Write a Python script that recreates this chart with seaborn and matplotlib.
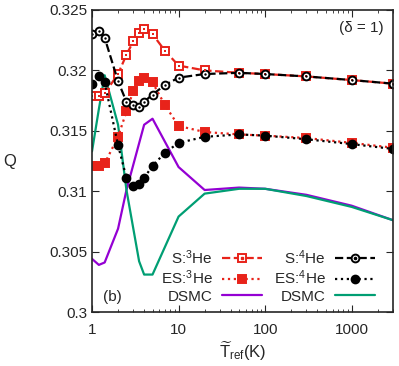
import numpy as np
import pandas as pd
import matplotlib
matplotlib.use("Agg")
import matplotlib.pyplot as plt
from matplotlib.ticker import FuncFormatter, LogLocator, NullFormatter
import seaborn as sns

# data
T = [1, 1.2, 1.4, 2, 2.5, 3, 3.5, 4, 5, 7, 10, 20, 50, 100, 300, 1000, 3000]
S_He3 = [0.3179, 0.3179, 0.3181, 0.3197, 0.3213, 0.3224, 0.3231, 0.3234, 0.3230, 0.3216,
         0.3204, 0.3200, 0.3198, 0.3197, 0.3195, 0.3192, 0.3189]
ES_He3 = [0.3121, 0.3121, 0.3123, 0.3145, 0.3166, 0.3183, 0.3191, 0.3194, 0.3190, 0.3171,
          0.3154, 0.3149, 0.3147, 0.3146, 0.3144, 0.3140, 0.3136]
S_He4 = [0.3230, 0.3233, 0.3227, 0.3191, 0.3174, 0.3171, 0.3170, 0.3174, 0.3180, 0.3188,
         0.3194, 0.3197, 0.3198, 0.3197, 0.3195, 0.3192, 0.3189]
ES_He4 = [0.3189, 0.3195, 0.3190, 0.3138, 0.3111, 0.3104, 0.3106, 0.3111, 0.3121, 0.3132,
          0.3140, 0.3145, 0.3147, 0.3146, 0.3143, 0.3139, 0.3135]

T_dsmc3 = [1, 1.2, 1.4, 2, 2.5, 4, 5, 10, 20, 50, 100, 300, 1000, 3000]
DSMC_He3 = [0.3044, 0.3039, 0.3041, 0.3069, 0.3101, 0.3155, 0.3160, 0.3120, 0.3101,
            0.3103, 0.3102, 0.3097, 0.3088, 0.3076]
T_dsmc4 = [1, 1.2, 1.4, 2, 2.5, 3.5, 4, 5, 10, 20, 50, 100, 300, 1000, 3000]
DSMC_He4 = [0.3133, 0.3168, 0.3196, 0.3155, 0.3101, 0.3042, 0.3031, 0.3031, 0.3079,
            0.3098, 0.3102, 0.3102, 0.3096, 0.3087, 0.3076]

red = "#e8231a"
purple = "#9400d3"
green = "#009e73"

sns.set_style("ticks")
plt.rcParams["font.family"] = ["Liberation Sans", "DejaVu Sans"]
plt.rcParams["mathtext.fontset"] = "custom"
plt.rcParams["mathtext.rm"] = "Liberation Sans"
plt.rcParams["mathtext.it"] = "Liberation Sans"
plt.rcParams["font.size"] = 11

fig = plt.figure(figsize=(3.99, 3.66), dpi=100)
ax = fig.add_axes([0.2306, 0.1475, 0.7544, 0.8252])

handles = []

def series(x, y, color, ls, marker, mfc, label, dot=False):
    sns.lineplot(x=x, y=y, ax=ax, color=color, linestyle=ls, lw=1.6, marker=marker,
                 markersize=5.6, markerfacecolor=mfc, markeredgecolor=color,
                 markeredgewidth=1.4, label=label, legend=False)
    ln = ax.lines[-1]
    if dot:
        sns.scatterplot(x=x, y=y, ax=ax, color=color, s=3, marker="s" if marker == "s" else "o",
                        edgecolor=color, linewidth=0, legend=False, zorder=ln.get_zorder() + 0.1)
        d, = ax.plot([], [], ls="none", marker="s" if marker == "s" else "o",
                     ms=1.6, color=color)
        handles.append(((ln, d), label))
    else:
        handles.append((ln, label))

series(T_dsmc3, DSMC_He3, purple, "-", None, "none", "DSMC")
series(T_dsmc4, DSMC_He4, green, "-", None, "none", "DSMC")
series(T, ES_He3, red, ":", "s", red, "ES:$^3$He")
series(T, S_He3, red, "--", "s", "white", "S:$^3$He", dot=True)
series(T, ES_He4, "black", ":", "o", "black", "ES:$^4$He")
series(T, S_He4, "black", "--", "o", "white", "S:$^4$He", dot=True)

order = [3, 2, 0, 5, 4, 1]
leg = ax.legend([handles[i][0] for i in order], [handles[i][1] for i in order],
                ncol=2, loc="lower right", bbox_to_anchor=(0.985, -0.018), frameon=False,
                markerfirst=False, handlelength=2.6, columnspacing=0.8,
                labelspacing=0.15, handletextpad=0.6, fontsize=11)

ax.set_xscale("log")
ax.set_xlim(1, 3000)
ax.set_ylim(0.3, 0.325)
ax.set_yticks(np.arange(0.3, 0.3251, 0.005))
ax.yaxis.set_major_formatter(FuncFormatter(lambda v, p: "%g" % round(v, 4)))
ax.set_xticks([1, 10, 100, 1000])
ax.xaxis.set_major_formatter(FuncFormatter(lambda v, p: "%g" % v))
ax.xaxis.set_minor_locator(LogLocator(base=10, subs=np.arange(2, 10), numticks=20))
ax.xaxis.set_minor_formatter(NullFormatter())
ax.tick_params(which="both", direction="in", top=True, right=True, labelsize=11)
ax.tick_params(which="major", length=5)
ax.tick_params(which="minor", length=2.5)
ax.tick_params(axis="x", which="major", pad=8)
for s in ax.spines.values():
    s.set_linewidth(1.2)

ax.set_xlabel(r"$\widetilde{\mathrm{T}}_{\mathrm{ref}}$(K)", fontsize=12, labelpad=2)
ax.set_ylabel("Q", rotation=0, fontsize=12, labelpad=28, va="center")
ax.text(0.97, 0.94, "(δ = 1)", transform=ax.transAxes, ha="right", va="center", fontsize=11)
ax.text(0.035, 0.05, "(b)", transform=ax.transAxes, ha="left", va="center", fontsize=11)

fig.savefig("out.png", dpi=100)
